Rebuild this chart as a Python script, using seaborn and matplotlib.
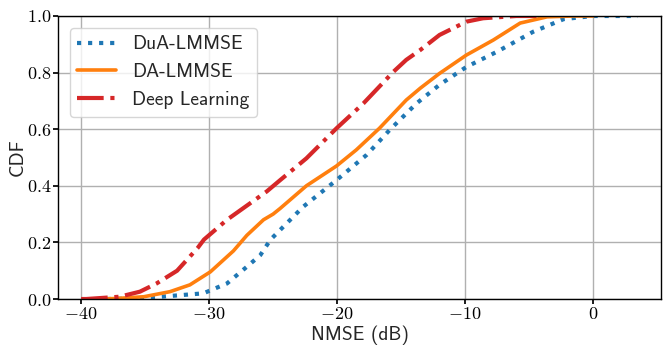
"""CDF of NMSE for three channel estimators."""

import matplotlib

matplotlib.use("Agg")
import matplotlib.pyplot as plt
import pandas as pd
import seaborn as sns

# values
dua_x = [-38.0, -36.0, -33.8, -30.45, -28.6, -27.05, -26.0, -25.2, -24.45, -22.65,
         -20.05, -17.7, -15.9, -15.1, -13.8, -12.0, -9.9, -7.5, -4.7, -2.3, 0.0, 3.5]
dua_y = [0.0, 0.002, 0.008, 0.02, 0.055, 0.114, 0.155, 0.21, 0.244, 0.326,
         0.42, 0.509, 0.597, 0.633, 0.691, 0.757, 0.82, 0.874, 0.944, 0.989, 1.0, 1.0]

da_x = [-38.5, -37.2, -35.1, -33.05, -31.5, -29.9, -28.1, -27.05, -25.75, -25.0,
        -24.45, -22.4, -20.05, -18.5, -16.7, -14.6, -13.5, -12.0, -9.9, -7.8,
        -5.7, -3.6, -1.5, 0.0]
da_y = [0.0, 0.002, 0.008, 0.026, 0.05, 0.096, 0.17, 0.225, 0.28, 0.30,
        0.32, 0.40, 0.47, 0.527, 0.603, 0.703, 0.745, 0.797, 0.862, 0.915,
        0.975, 0.997, 1.0, 1.0]

dl_x = [-40.0, -39.6, -37.0, -35.4, -34.1, -32.5, -30.9, -30.4, -28.6, -27.05,
        -25.5, -24.45, -22.4, -20.05, -17.95, -15.6, -14.6, -13.5, -12.0, -9.9,
        -8.6, -6.0, -4.0]
dl_y = [0.0, 0.0, 0.008, 0.026, 0.055, 0.10, 0.18, 0.21, 0.28, 0.33,
        0.38, 0.42, 0.497, 0.603, 0.691, 0.803, 0.845, 0.88, 0.933, 0.98,
        0.992, 1.0, 1.0]

x_ticks = [-40, -30, -20, -10, 0]
y_ticks = [0.0, 0.2, 0.4, 0.6, 0.8, 1.0]

sns.set_theme(style="whitegrid")
plt.rcParams.update(
    {
        "font.family": ["cmss10", "DejaVu Sans"],
        "mathtext.fontset": "cm",
        "axes.unicode_minus": False,
        "axes.edgecolor": "black",
        "axes.linewidth": 1.0,
        "grid.color": "#b0b0b0",
        "grid.linewidth": 1.0,
        "xtick.bottom": True,
        "ytick.left": True,
        "xtick.major.size": 3.5,
        "ytick.major.size": 3.5,
        "xtick.major.pad": 1.5,
        "ytick.major.pad": 1.5,
        "xtick.color": "black",
        "ytick.color": "black",
        "font.size": 14,
    }
)

fig = plt.figure(figsize=(6.7, 3.46), dpi=100)
ax = fig.add_axes([0.0866, 0.1358, 0.9, 0.818])

series = [
    ("DuA-LMMSE", dua_x, dua_y, "#1f77b4", ":", 3.0),
    ("DA-LMMSE", da_x, da_y, "#ff7f0e", "-", 2.6),
    ("Deep Learning", dl_x, dl_y, "#d62728", "-.", 3.0),
]
for name, xs, ys, col, ls, lw in series:
    df = pd.DataFrame({"nmse": xs, "cdf": ys})
    sns.lineplot(data=df, x="nmse", y="cdf", color=col, linestyle=ls,
                 linewidth=lw, label=name, ax=ax)

ax.set_xlim(-41.8, 5.3)
ax.set_ylim(0, 1)
ax.set_xticks(x_ticks)
ax.set_yticks(y_ticks)
ax.set_xticklabels([f"${v:d}$" for v in x_ticks], fontsize=13)
ax.set_yticklabels([f"${v:.1f}$" for v in y_ticks], fontsize=13)
ax.set_xlabel("NMSE (dB)", fontsize=14)
ax.set_ylabel("CDF", fontsize=14)
ax.xaxis.set_label_coords(0.5, -0.092)
ax.yaxis.set_label_coords(-0.052, 0.5)
for s in ax.spines.values():
    s.set_color("black")
    s.set_linewidth(1.0)

ax.legend(loc="upper left", fontsize=14, frameon=True, fancybox=True,
          framealpha=0.8, edgecolor="#cccccc", borderaxespad=0.6)

fig.savefig("out.png", dpi=100)
